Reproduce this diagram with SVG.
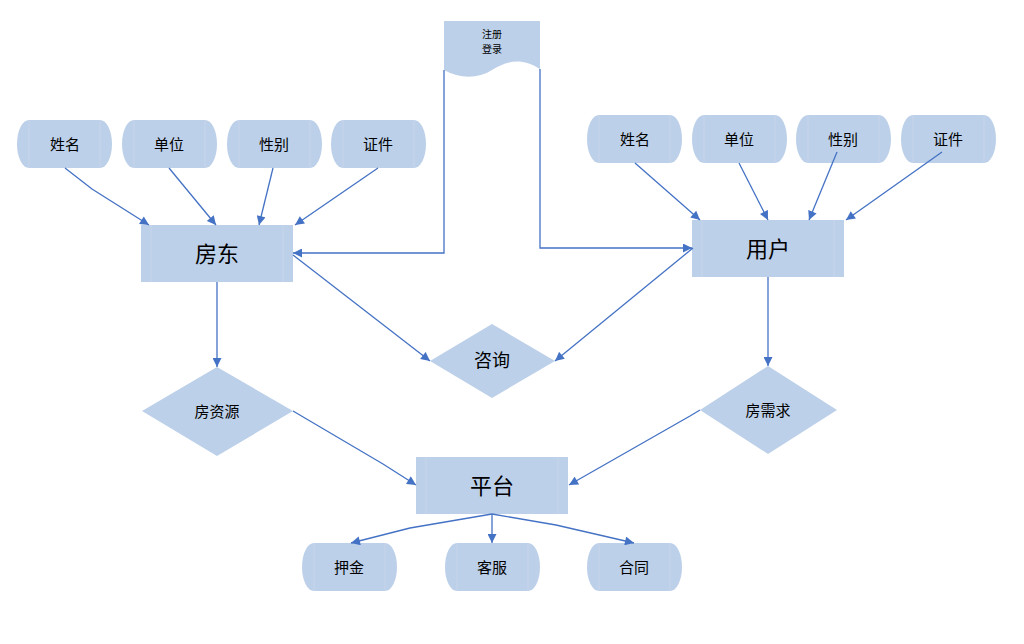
<svg xmlns="http://www.w3.org/2000/svg" width="1024" height="644" viewBox="0 0 1024 644">
<defs>
<style>
.f{fill:#BDD0E9;}
.il{stroke:#C9D6EA;stroke-width:0.8;fill:none;}
.t{font-family:"Noto Sans CJK SC","Noto Sans",sans-serif;fill:#000;text-anchor:middle;dominant-baseline:central;}
.s15{font-size:15px;}
.s22{font-size:22px;}
.s18{font-size:18px;}
.s10{font-size:10px;}
.c{stroke:#4472C4;stroke-width:1.3;fill:none;marker-end:url(#ah);}
</style>
<marker id="ah" viewBox="0 0 10 10" refX="10" refY="5" markerWidth="10" markerHeight="9" markerUnits="userSpaceOnUse" orient="auto">
<path d="M0,0 L10,5 L0,10 Z" fill="#4472C4"/>
</marker>
</defs>
<rect width="1024" height="644" fill="#fff"/>

<g id="reg">
<path class="f" d="M444,21 H540 V69 C520,56 505,62 492,70 C478,79 460,79 444,70 Z"/>
<text class="t s10" x="492" y="33">注册</text>
<text class="t s10" x="492" y="48">登录</text>
</g>

<g id="L_name"><rect class="f" x="17" y="120" width="95" height="48" rx="12" ry="24"/><path class="il" d="M29,120V168M100,120V168"/><text class="t s15" x="65" y="143">姓名</text></g>
<g id="L_unit"><rect class="f" x="122" y="120" width="95" height="48" rx="12" ry="24"/><path class="il" d="M134,120V168M205,120V168"/><text class="t s15" x="169" y="143">单位</text></g>
<g id="L_sex"><rect class="f" x="227" y="120" width="95" height="48" rx="12" ry="24"/><path class="il" d="M239,120V168M310,120V168"/><text class="t s15" x="274" y="143">性别</text></g>
<g id="L_id"><rect class="f" x="331" y="120" width="95" height="48" rx="12" ry="24"/><path class="il" d="M343,120V168M414,120V168"/><text class="t s15" x="378" y="143">证件</text></g>

<g id="R_name"><rect class="f" x="587" y="115" width="95" height="48" rx="12" ry="24"/><path class="il" d="M599,115V163M670,115V163"/><text class="t s15" x="635" y="138">姓名</text></g>
<g id="R_unit"><rect class="f" x="692" y="115" width="95" height="48" rx="12" ry="24"/><path class="il" d="M704,115V163M775,115V163"/><text class="t s15" x="739" y="138">单位</text></g>
<g id="R_sex"><rect class="f" x="796" y="115" width="95" height="48" rx="12" ry="24"/><path class="il" d="M808,115V163M879,115V163"/><text class="t s15" x="843" y="138">性别</text></g>
<g id="R_id"><rect class="f" x="901" y="115" width="95" height="48" rx="12" ry="24"/><path class="il" d="M913,115V163M984,115V163"/><text class="t s15" x="948" y="138">证件</text></g>

<g id="landlord"><rect class="f" x="141" y="225" width="152" height="57"/><path class="il" d="M151,225V282M283,225V282"/><text class="t s22" x="217" y="252">房东</text></g>
<g id="user"><rect class="f" x="692" y="220" width="152" height="57"/><path class="il" d="M702,220V277M834,220V277"/><text class="t s22" x="768" y="247">用户</text></g>

<g id="consult"><polygon class="f" points="492,324 555,361 492,398 430,361"/><text class="t s18" x="492" y="359">咨询</text></g>
<g id="housing"><polygon class="f" points="217,367 293,411 217,456 142,411"/><text class="t s15" x="217" y="410">房资源</text></g>
<g id="demand"><polygon class="f" points="768,366 837,410 768,454 700,410"/><text class="t s15" x="768" y="409">房需求</text></g>

<g id="platform"><rect class="f" x="416" y="457" width="152" height="57"/><path class="il" d="M426,457V514M558,457V514"/><text class="t s22" x="492" y="484">平台</text></g>

<g id="deposit"><rect class="f" x="302" y="543" width="95" height="48" rx="12" ry="24"/><path class="il" d="M314,543V591M385,543V591"/><text class="t s15" x="349" y="566">押金</text></g>
<g id="service"><rect class="f" x="445" y="543" width="95" height="48" rx="12" ry="24"/><path class="il" d="M457,543V591M528,543V591"/><text class="t s15" x="492" y="566">客服</text></g>
<g id="contract"><rect class="f" x="587" y="543" width="95" height="48" rx="12" ry="24"/><path class="il" d="M599,543V591M670,543V591"/><text class="t s15" x="634" y="566">合同</text></g>

<g id="connectors">
<polyline class="c" points="65,168 92,189 149,225"/>
<line class="c" x1="169" y1="168" x2="216" y2="225"/>
<line class="c" x1="273" y1="168" x2="259" y2="225"/>
<line class="c" x1="378" y1="168" x2="295" y2="225"/>
<line class="c" x1="635" y1="163" x2="700" y2="220"/>
<line class="c" x1="739" y1="163" x2="768" y2="220"/>
<line class="c" x1="837" y1="152" x2="809" y2="220"/>
<line class="c" x1="942" y1="152" x2="846" y2="220"/>
<polyline class="c" points="444,70 444,253 293,253"/>
<polyline class="c" points="540,69 540,248 692,248"/>
<line class="c" x1="293" y1="255" x2="430" y2="361"/>
<line class="c" x1="693" y1="248" x2="555" y2="361"/>
<line class="c" x1="217" y1="282" x2="217" y2="367"/>
<line class="c" x1="768" y1="277" x2="768" y2="366"/>
<polyline class="c" points="293,411 383,464 416,485"/>
<polyline class="c" points="700,410 690,416 569,485"/>
<polyline class="c" points="492,514 410,528 351,543"/>
<line class="c" x1="492" y1="514" x2="492" y2="543"/>
<polyline class="c" points="492,514 556,525 634,543"/>
</g>
</svg>
